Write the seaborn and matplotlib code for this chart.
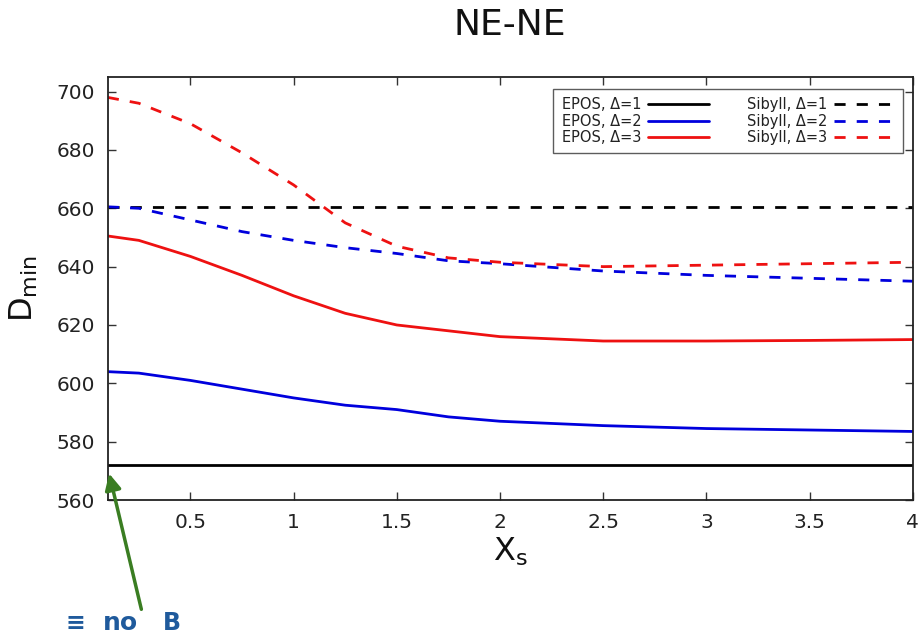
import matplotlib
matplotlib.use("Agg")
import matplotlib.pyplot as plt
import seaborn as sns
import pandas as pd

xs = [0.1, 0.25, 0.5, 0.75, 1.0, 1.25, 1.5, 1.75, 2.0, 2.5, 3.0, 3.5, 4.0]
epos_d1 = [572.0] * 13
epos_d2 = [604.0, 603.5, 601.0, 598.0, 595.0, 592.5, 591.0, 588.5, 587.0, 585.5, 584.5, 584.0, 583.5]
epos_d3 = [650.5, 649.0, 643.5, 637.0, 630.0, 624.0, 620.0, 618.0, 616.0, 614.5, 614.5, 614.7, 615.0]
sib_d1 = [660.5] * 13
sib_d2 = [660.5, 660.0, 656.0, 652.0, 649.0, 646.5, 644.5, 642.0, 641.0, 638.5, 637.0, 636.0, 635.0]
sib_d3 = [698.0, 696.0, 689.0, 679.0, 668.0, 655.0, 647.0, 643.0, 641.5, 640.0, 640.5, 641.0, 641.5]

labels = ["EPOS, Δ=1", "EPOS, Δ=2", "EPOS, Δ=3", "Sibyll, Δ=1", "Sibyll, Δ=2", "Sibyll, Δ=3"]
series = [epos_d1, epos_d2, epos_d3, sib_d1, sib_d2, sib_d3]
colors = ["black", "#0000dd", "#ee1111", "black", "#0000dd", "#ee1111"]
xtick_vals = [0.5, 1, 1.5, 2, 2.5, 3, 3.5, 4]
xtick_labels = ["0.5", "1", "1.5", "2", "2.5", "3", "3.5", "4"]
ytick_vals = [560, 580, 600, 620, 640, 660, 680, 700]

sns.set_style("ticks")
plt.rcParams['font.family'] = ['DejaVu Sans']

fig = plt.figure(figsize=(9.22, 6.39), dpi=100)
ax = fig.add_axes([0.117, 0.2175, 0.873, 0.662])

for lab, ys, c in zip(labels, series, colors):
    df = pd.DataFrame({"x": xs, "y": ys})
    dashed = lab.startswith("Sibyll")
    sns.lineplot(data=df, x="x", y="y", ax=ax, color=c, linewidth=2.0,
                 label=lab, linestyle=(0, (4, 4)) if dashed else "-")

ax.set_xlim(0.1, 4.0)
ax.set_ylim(560, 705)
ax.set_xticks(xtick_vals)
ax.set_xticklabels(xtick_labels)
ax.set_yticks(ytick_vals)
ax.tick_params(direction="in", top=True, right=True, labelsize=14.5, length=6, width=1,
               colors="#333333", pad=9)
for t in ax.get_xticklabels() + ax.get_yticklabels():
    t.set_color("#222222")
for s in ax.spines.values():
    s.set_linewidth(1.3)
    s.set_color("#222222")
ax.set_xlabel("X$_\\mathregular{s}$", fontsize=23, labelpad=3, color="#111111")
ax.set_ylabel("D$_\\mathregular{min}$", fontsize=23, labelpad=12, color="#111111")

fig.text(0.553, 1 - 25 / 639, "NE-NE", ha="center", va="center", fontsize=26, color="#111111")

handles, labs = ax.get_legend_handles_labels()
leg = ax.legend(handles, labs, loc="upper right", ncol=2, markerfirst=False, fontsize=10.5,
                frameon=True, fancybox=False, edgecolor="#333333", handlelength=4.2,
                columnspacing=2.6, labelspacing=0.1, borderpad=0.55, handletextpad=0.45,
                bbox_to_anchor=(0.997, 0.988))
leg.get_frame().set_linewidth(1.0)
for t in leg.get_texts():
    t.set_color("#222222")

ax.annotate("", xy=(0.103, 570.0), xycoords="data",
            xytext=(142 / 922, 1 - 612 / 639), textcoords="figure fraction",
            arrowprops=dict(arrowstyle="-|>", color="#3a7d22", lw=2.5, mutation_scale=24),
            annotation_clip=False)
note_color = "#1f5a9c"
fig.text(65 / 922, 1 - 623 / 639, "≡", fontsize=17, fontweight="bold", color=note_color,
         ha="left", va="center")
fig.text(103 / 922, 1 - 623 / 639, "no", fontsize=18, fontweight="bold", color=note_color,
         ha="left", va="center")
fig.text(163 / 922, 1 - 623 / 639, "B", fontsize=17, fontweight="bold", color=note_color,
         ha="left", va="center")

fig.savefig("out.png", dpi=100)
